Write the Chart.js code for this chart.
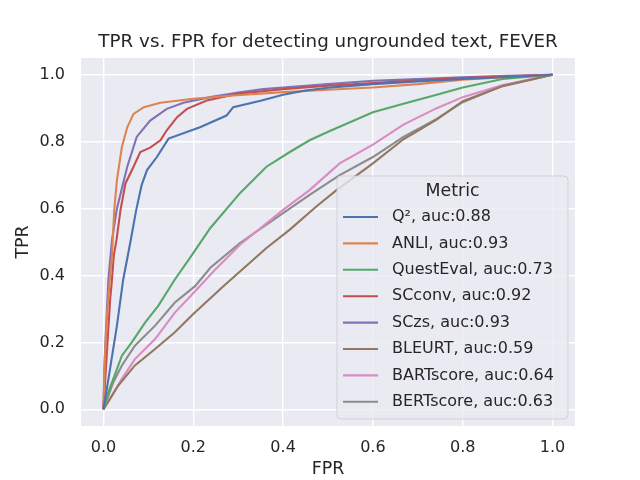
<!DOCTYPE html>
<html>
<head>
<meta charset="utf-8">
<script src="https://cdn.jsdelivr.net/npm/chart.js"></script>
<style>
  html, body { margin: 0; padding: 0; background: #ffffff; }
  #wrap { width: 640px; height: 480px; }
</style>
</head>
<body>
<div id="wrap"><canvas id="rocChart" width="640" height="480"></canvas></div>
<script>
// ROC curves (FPR on x, TPR on y)
const q2Fpr = [0, 0.011, 0.03, 0.044, 0.06, 0.073, 0.085, 0.097, 0.119, 0.145, 0.215, 0.274, 0.289, 0.35, 0.4, 0.45, 0.5, 0.6, 0.7, 0.8, 0.9, 1];
const q2Tpr = [0, 0.09, 0.25, 0.388, 0.5, 0.596, 0.67, 0.715, 0.754, 0.809, 0.843, 0.878, 0.903, 0.922, 0.94, 0.953, 0.961, 0.972, 0.98, 0.987, 0.993, 1];

const anliFpr = [0, 0.003, 0.008, 0.013, 0.019, 0.024, 0.03, 0.041, 0.053, 0.067, 0.09, 0.127, 0.2, 0.289, 0.4, 0.5, 0.6, 0.7, 0.8, 0.9, 1];
const anliTpr = [0, 0.15, 0.28, 0.37, 0.46, 0.596, 0.685, 0.784, 0.843, 0.883, 0.903, 0.916, 0.928, 0.938, 0.948, 0.955, 0.962, 0.972, 0.985, 0.993, 1];

const questFpr = [0, 0.011, 0.022, 0.041, 0.063, 0.093, 0.122, 0.159, 0.193, 0.238, 0.304, 0.363, 0.415, 0.459, 0.504, 0.6, 0.668, 0.742, 0.8, 0.889, 1];
const questTpr = [0, 0.052, 0.091, 0.16, 0.2, 0.26, 0.309, 0.388, 0.453, 0.542, 0.646, 0.725, 0.769, 0.804, 0.832, 0.888, 0.913, 0.94, 0.962, 0.987, 1];

const scconvFpr = [0, 0.004, 0.009, 0.015, 0.019, 0.023, 0.029, 0.038, 0.049, 0.067, 0.082, 0.104, 0.127, 0.141, 0.164, 0.186, 0.23, 0.3, 0.4, 0.5, 0.6, 0.7, 0.8, 0.9, 1];
const scconvTpr = [0, 0.09, 0.2, 0.33, 0.388, 0.46, 0.506, 0.596, 0.675, 0.725, 0.769, 0.782, 0.804, 0.834, 0.873, 0.898, 0.923, 0.943, 0.957, 0.967, 0.975, 0.983, 0.99, 0.995, 1];

const sczsFpr = [0, 0.002, 0.005, 0.011, 0.019, 0.03, 0.053, 0.074, 0.104, 0.141, 0.178, 0.238, 0.3, 0.356, 0.4, 0.5, 0.6, 0.7, 0.8, 0.9, 1];
const sczsTpr = [0, 0.12, 0.22, 0.388, 0.506, 0.6, 0.725, 0.814, 0.863, 0.898, 0.916, 0.933, 0.947, 0.957, 0.962, 0.972, 0.982, 0.987, 0.992, 0.997, 1];

const bleurtFpr = [0, 0.015, 0.033, 0.07, 0.115, 0.159, 0.2, 0.267, 0.363, 0.415, 0.474, 0.519, 0.6, 0.668, 0.742, 0.8, 0.889, 1];
const bleurtTpr = [0, 0.032, 0.071, 0.131, 0.18, 0.23, 0.285, 0.368, 0.482, 0.537, 0.606, 0.655, 0.735, 0.807, 0.866, 0.921, 0.966, 1];

const bartFpr = [0, 0.019, 0.041, 0.07, 0.115, 0.159, 0.204, 0.249, 0.304, 0.4, 0.459, 0.526, 0.6, 0.668, 0.742, 0.8, 0.889, 1];
const bartTpr = [0, 0.042, 0.091, 0.15, 0.21, 0.289, 0.353, 0.418, 0.492, 0.596, 0.655, 0.735, 0.791, 0.851, 0.9, 0.933, 0.969, 1];

const bertFpr = [0, 0.022, 0.041, 0.07, 0.115, 0.159, 0.204, 0.238, 0.304, 0.4, 0.459, 0.526, 0.6, 0.668, 0.742, 0.8, 0.889, 1];
const bertTpr = [0, 0.081, 0.131, 0.19, 0.25, 0.319, 0.368, 0.423, 0.497, 0.586, 0.641, 0.7, 0.754, 0.814, 0.868, 0.918, 0.967, 1];

const metricNames = ['Q², auc:0.88', 'ANLI, auc:0.93', 'QuestEval, auc:0.73', 'SCconv, auc:0.92',
                     'SCzs, auc:0.93', 'BLEURT, auc:0.59', 'BARTscore, auc:0.64', 'BERTscore, auc:0.63'];
const xTicks = [0, 0.2, 0.4, 0.6, 0.8, 1.0];
const yTicks = [0, 0.2, 0.4, 0.6, 0.8, 1.0];

const palette = ['#4c72b0', '#dd8452', '#55a868', '#c44e52', '#8172b3', '#937860', '#da8bc3', '#8c8c8c'];
const curves = [
  [q2Fpr, q2Tpr], [anliFpr, anliTpr], [questFpr, questTpr], [scconvFpr, scconvTpr],
  [sczsFpr, sczsTpr], [bleurtFpr, bleurtTpr], [bartFpr, bartTpr], [bertFpr, bertTpr]
];

const FONT = 'DejaVu Sans';
const TEXT = '#262626';

function toPoints(xs, ys) {
  return xs.map((x, i) => ({ x: x, y: ys[i] }));
}

const datasets = curves.map((c, i) => ({
  label: metricNames[i],
  data: toPoints(c[0], c[1]),
  borderColor: palette[i],
  backgroundColor: palette[i],
  borderWidth: 2.1,
  pointRadius: 0,
  tension: 0,
  fill: false
}));

// seaborn-like grey panel behind the plot
const panelBg = {
  id: 'panelBg',
  beforeDraw(chart) {
    const a = chart.chartArea;
    const ctx = chart.ctx;
    ctx.save();
    ctx.fillStyle = '#eaeaf2';
    ctx.fillRect(a.left, a.top, a.right - a.left, a.bottom - a.top);
    ctx.restore();
  }
};

// title centred over the axes and the legend box inside the plot
const decorations = {
  id: 'decorations',
  afterDraw(chart) {
    const ctx = chart.ctx;
    const a = chart.chartArea;
    ctx.save();
    ctx.fillStyle = TEXT;
    ctx.font = '18.3px "' + FONT + '"';
    ctx.textAlign = 'center';
    ctx.textBaseline = 'middle';
    ctx.fillText('TPR vs. FPR for detecting ungrounded text, FEVER', (a.left + a.right) / 2, 42);

    // legend
    const bx = 337, by = 176, bw = 231, bh = 243, r = 4;
    ctx.beginPath();
    ctx.moveTo(bx + r, by);
    ctx.arcTo(bx + bw, by, bx + bw, by + bh, r);
    ctx.arcTo(bx + bw, by + bh, bx, by + bh, r);
    ctx.arcTo(bx, by + bh, bx, by, r);
    ctx.arcTo(bx, by, bx + bw, by, r);
    ctx.closePath();
    ctx.fillStyle = 'rgba(234, 234, 242, 0.8)';
    ctx.fill();
    ctx.strokeStyle = 'rgba(204, 204, 204, 0.8)';
    ctx.lineWidth = 1;
    ctx.stroke();

    ctx.fillStyle = TEXT;
    ctx.font = '17.4px "' + FONT + '"';
    ctx.textAlign = 'center';
    ctx.fillText('Metric', bx + bw / 2, 191);

    ctx.font = '16px "' + FONT + '"';
    ctx.textAlign = 'left';
    chart.data.datasets.forEach((ds, i) => {
      const y = 217 + i * 26.4;
      ctx.strokeStyle = ds.borderColor;
      ctx.lineWidth = 2.1;
      ctx.beginPath();
      ctx.moveTo(343, y);
      ctx.lineTo(378, y);
      ctx.stroke();
      ctx.fillStyle = TEXT;
      ctx.fillText(ds.label, 392, y);
    });
    ctx.restore();
  }
};

const ctx = document.getElementById('rocChart').getContext('2d');
new Chart(ctx, {
  type: 'line',
  data: { datasets: datasets },
  plugins: [panelBg, decorations],
  options: {
    responsive: false,
    animation: false,
    devicePixelRatio: 1,
    layout: { padding: { top: 58, right: 65, left: 0, bottom: 0 } },
    plugins: {
      legend: { display: false },
      tooltip: { enabled: false },
      title: { display: false }
    },
    scales: {
      x: {
        type: 'linear',
        min: -0.05,
        max: 1.05,
        afterBuildTicks(scale) { scale.ticks = xTicks.map(v => ({ value: v })); },
        afterFit(scale) { scale.height = 54; },
        border: { display: false },
        grid: { color: '#ffffff', lineWidth: 1.4, drawTicks: false },
        ticks: {
          padding: 12,
          color: TEXT,
          font: { family: FONT, size: 16 },
          callback: v => v.toFixed(1)
        },
        title: {
          display: true,
          text: 'FPR',
          color: TEXT,
          font: { family: FONT, size: 17.4 },
          padding: { top: 0, bottom: 0 }
        }
      },
      y: {
        type: 'linear',
        min: -0.05,
        max: 1.05,
        afterBuildTicks(scale) { scale.ticks = yTicks.map(v => ({ value: v })); },
        afterFit(scale) { scale.width = 81; },
        border: { display: false },
        grid: { color: '#ffffff', lineWidth: 1.4, drawTicks: false },
        ticks: {
          padding: 16,
          color: TEXT,
          font: { family: FONT, size: 16 },
          callback: v => v.toFixed(1)
        },
        title: {
          display: true,
          text: 'TPR',
          color: TEXT,
          font: { family: FONT, size: 17.4 },
          padding: { top: 13, bottom: 0 }
        }
      }
    }
  }
});
</script>
</body>
</html>
